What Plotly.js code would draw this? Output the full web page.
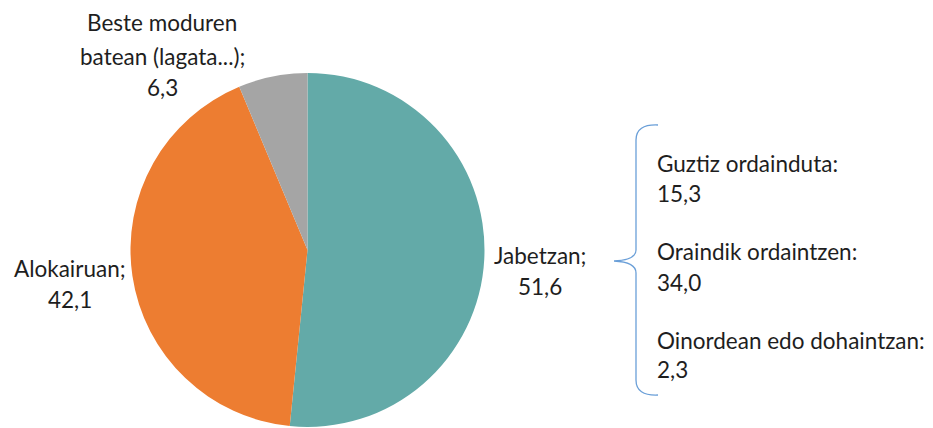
<!DOCTYPE html>
<html><head><meta charset="utf-8">
<script src="https://cdn.plot.ly/plotly-3.0.1.min.js"></script>
<style>html,body{margin:0;padding:0;background:#fff}#c{width:933px;height:428px}</style>
</head><body><div id="c"></div>
<script>
const categories = ["Jabetzan", "Alokairuan", "Beste moduren batean (lagata...)"];
const values = [51.6, 42.1, 6.3];
const colors = ["#63AAA8", "#ED7D31", "#A5A5A5"];
const subCategories = ["Guztiz ordainduta", "Oraindik ordaintzen", "Oinordean edo dohaintzan"];
const subValues = [15.3, 34.0, 2.3];

const W = 933, H = 428;
const px = x => x / W, py = y => 1 - y / H;
const fmt = v => v.toFixed(1).replace('.', ',');
const FONT = {family: "Lato, 'Open Sans', sans-serif", size: 22.5, color: "#1e1e1e"};

function line(text, x, y, anchor) {
  return {text: text, x: px(x), y: py(y), xref: 'paper', yref: 'paper', showarrow: false,
          xanchor: anchor || 'center', yanchor: 'middle', font: FONT};
}

const ann = [
  line("Beste moduren", 162, 23),
  line("batean (lagata...);", 162, 56),
  line(fmt(values[2]), 162, 87),
  line(categories[1] + ";", 70, 268),
  line(fmt(values[1]), 70, 299),
  line(categories[0] + ";", 540, 255),
  line(fmt(values[0]), 540, 286)
];
const subY = [[163, 193], [251, 282], [340, 369]];
subCategories.forEach((c, i) => {
  ann.push(line(c + ":", 655, subY[i][0], 'left'));
  ann.push(line(fmt(subValues[i]), 655, subY[i][1], 'left'));
});

const P = (x, y) => px(x).toFixed(5) + ',' + py(y).toFixed(5);
const brace = 'M' + P(658, 125) + ' Q' + P(636, 124) + ' ' + P(636, 140) +
  ' L' + P(636, 250) + ' Q' + P(636, 260) + ' ' + P(614, 261) +
  ' Q' + P(636, 262) + ' ' + P(636, 273) +
  ' L' + P(636, 380) + ' Q' + P(636, 396) + ' ' + P(658, 395);

const trace = {
  type: 'pie', labels: categories, values: values, sort: false, direction: 'clockwise',
  rotation: 0, textinfo: 'none', hoverinfo: 'label+value',
  marker: {colors: colors, line: {width: 0}},
  domain: {x: [130.5 / W, 484.5 / W], y: [py(427), py(73)]}
};

Plotly.newPlot('c', [trace], {
  width: W, height: H, margin: {l: 0, r: 0, t: 0, b: 0},
  paper_bgcolor: '#fff', showlegend: false, annotations: ann,
  shapes: [{type: 'path', path: brace, xref: 'paper', yref: 'paper',
            line: {color: '#6A9FD8', width: 1.3}}]
}, {displayModeBar: false, staticPlot: true});
</script></body></html>
